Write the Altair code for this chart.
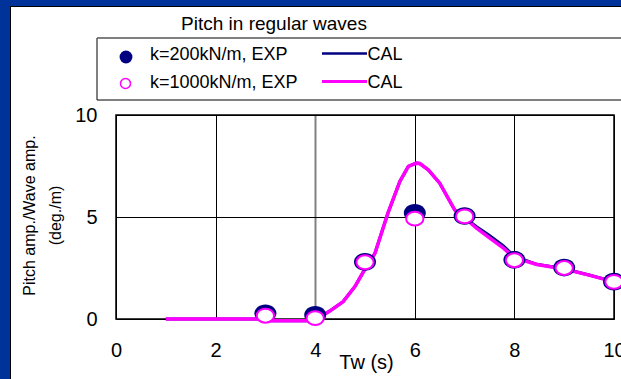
import altair as alt
import pandas as pd

# ---------------- data ----------------
cal_tw = [1.0, 3.0, 3.05, 4.0, 4.1, 4.3, 4.56, 4.8, 5.0, 5.2, 5.46, 5.7, 5.87, 6.03,
          6.1, 6.27, 6.5, 6.8, 7.0, 7.24, 7.5, 7.78, 8.0, 8.45, 9.0, 9.5, 10.0]
cal_k200 = [0.0, 0.0, -0.08, -0.08, 0.1, 0.4, 0.85, 1.6, 2.45, 3.22, 5.19, 6.74, 7.48, 7.64,
            7.62, 7.31, 6.66, 5.35, 4.97, 4.52, 4.1, 3.58, 3.08, 2.68, 2.46, 2.16, 1.83]
cal_k1000 = [0.0, 0.0, -0.08, -0.08, 0.1, 0.4, 0.85, 1.6, 2.45, 3.22, 5.19, 6.74, 7.48, 7.64,
             7.62, 7.31, 6.66, 5.35, 4.95, 4.45, 3.98, 3.47, 3.0, 2.67, 2.45, 2.15, 1.82]

exp_tw = [3, 4, 5, 6, 7, 8, 9, 10]
exp_k200 = [0.28, 0.2, 2.8, 5.2, 5.05, 2.9, 2.52, 1.83]
exp_k1000 = [0.16, 0.04, 2.78, 4.92, 5.03, 2.88, 2.5, 1.82]

x_ticks = [0, 2, 4, 6, 8, 10]
y_ticks = [0, 5, 10]

title_text = "Pitch in regular waves"
legend_labels = ["k=200kN/m, EXP", "k=1000kN/m, EXP"]
legend_cal = "CAL"
x_title = "Tw (s)"
y_title = ["Pitch amp./Wave amp.", "(deg./m)"]

NAVY = "#000080"
MAGENTA = "#FF00FF"
BLUE = "#003399"
FONT = "Liberation Sans"

W, H = 498, 204
PL, PT, PR, PB = 116, 115, 7, 60

cal200 = pd.DataFrame({"tw": cal_tw, "val": cal_k200})
cal1000 = pd.DataFrame({"tw": cal_tw, "val": cal_k1000})
exp200 = pd.DataFrame({"tw": exp_tw, "val": exp_k200})
exp1000 = pd.DataFrame({"tw": exp_tw, "val": exp_k1000})
one = pd.DataFrame({"a": [0]})

xaxis = alt.Axis(
    values=x_ticks, title=x_title, format="d",
    grid=True,
    gridColor={"condition": {"test": "datum.value === 4", "value": "#808080"}, "value": "#000000"},
    gridWidth={"condition": {"test": "datum.value === 4", "value": 2}, "value": 1},
    ticks=False, domain=False,
    labelFont=FONT, labelFontSize=20, labelColor="black", labelPadding=21,
    labelFlush=False, labelOverlap=False,
    titleFont=FONT, titleFontSize=20, titleFontWeight="normal", titleColor="black",
    titleX=250, titleY=49, titleAlign="center", titleBaseline="alphabetic",
)
yaxis = alt.Axis(
    values=y_ticks, title=y_title, format="d",
    grid=True, gridColor="#000000", gridWidth=1,
    ticks=False, domain=False,
    labelFont=FONT, labelFontSize=20, labelColor="black", labelPadding=19,
    labelFlush=False, labelOverlap=False,
    titleFont=FONT, titleFontSize=16, titleFontWeight="normal", titleColor="black",
    titleAngle=270, titleX=-87, titleY=100, titleAlign="center", titleBaseline="middle",
    titleLineHeight=26,
)

X = alt.X("tw:Q", scale=alt.Scale(domain=[0, 10], nice=False, zero=False), axis=xaxis)
Y = alt.Y("val:Q", scale=alt.Scale(domain=[0, 10], nice=False, zero=False), axis=yaxis)

ellipse = "M-1,0A1,0.8,0,1,0,1,0A1,0.8,0,1,0,-1,0Z"

line200 = alt.Chart(cal200).mark_line(color=NAVY, strokeWidth=3).encode(x=X, y=Y)
line1000 = alt.Chart(cal1000).mark_line(color=MAGENTA, strokeWidth=3.5).encode(x=X, y=Y)
pts200 = alt.Chart(exp200).mark_point(
    shape=ellipse, filled=True, fill=NAVY, strokeWidth=0, opacity=1, size=484
).encode(x=X, y=Y)
pts1000 = alt.Chart(exp1000).mark_point(
    shape=ellipse, filled=True, fill="white", stroke=MAGENTA, strokeWidth=2, opacity=1, size=300
).encode(x=X, y=Y)

# ---------- frame and decorations (pixel positions relative to plot area) ----------
def rect(x1, x2, y1, y2, **kw):
    return alt.Chart(one).mark_rect(**kw).encode(
        x=alt.value(x1), x2=alt.value(x2), y=alt.value(y1), y2=alt.value(y2))

def rule(x1, x2, y1, y2, **kw):
    return alt.Chart(one).mark_rule(**kw).encode(
        x=alt.value(x1), x2=alt.value(x2), y=alt.value(y1), y2=alt.value(y2))

def text(t, x, y, **kw):
    return alt.Chart(one).mark_text(font=FONT, color="black", **kw).encode(
        x=alt.value(x), y=alt.value(y), text=alt.value(t))

frame = [
    rect(-PL, -PL + 10, -PT, H + PB, color=BLUE),
    rect(-PL, W + PR, -PT, -PT + 6, color=BLUE),
    rule(-PL + 10.5, -PL + 10.5, -PT + 6, H + PB, color="#000000", strokeWidth=1),
    rule(-PL + 10, W + PR, -PT + 6.5, -PT + 6.5, color="#000000", strokeWidth=1),
]

legend_box = [
    rect(-19, 520, -77, -15, fillOpacity=0, stroke="#000000", strokeWidth=1),
    rule(-19, 520, -77, -77, color="#808080", strokeWidth=1.5),
]

legend_items = [
    alt.Chart(one).mark_point(shape="circle", filled=True, fill=NAVY, strokeWidth=0,
                              opacity=1, size=165).encode(x=alt.value(10), y=alt.value(-58)),
    alt.Chart(one).mark_point(shape="circle", filled=True, fill="white", stroke=MAGENTA,
                              strokeWidth=1.5, opacity=1, size=100).encode(x=alt.value(9.5), y=alt.value(-31.5)),
    text(legend_labels[0], 34, -55, fontSize=18, align="left", baseline="alphabetic"),
    text(legend_labels[1], 34, -27, fontSize=18, align="left", baseline="alphabetic"),
    rule(206, 251, -61.5, -61.5, color=NAVY, strokeWidth=2.5),
    rule(206, 251, -33.5, -33.5, color=MAGENTA, strokeWidth=3),
    text(legend_cal, 251.5, -55, fontSize=18, align="left", baseline="alphabetic"),
    text(legend_cal, 251.5, -27, fontSize=18, align="left", baseline="alphabetic"),
]

title = text(title_text, 158, -85.5, fontSize=19, align="center", baseline="alphabetic")

chart = alt.layer(
    line200, line1000, pts200, pts1000, *frame, *legend_box, *legend_items, title
).properties(
    width=W, height=H,
    autosize=alt.AutoSizeParams(type="none"),
    padding={"left": PL, "top": PT, "right": PR, "bottom": PB},
    background="white",
).configure_view(
    stroke="#000000", strokeWidth=1.5
)

chart.save("out.html", embed_options={"renderer": "svg", "actions": False})
